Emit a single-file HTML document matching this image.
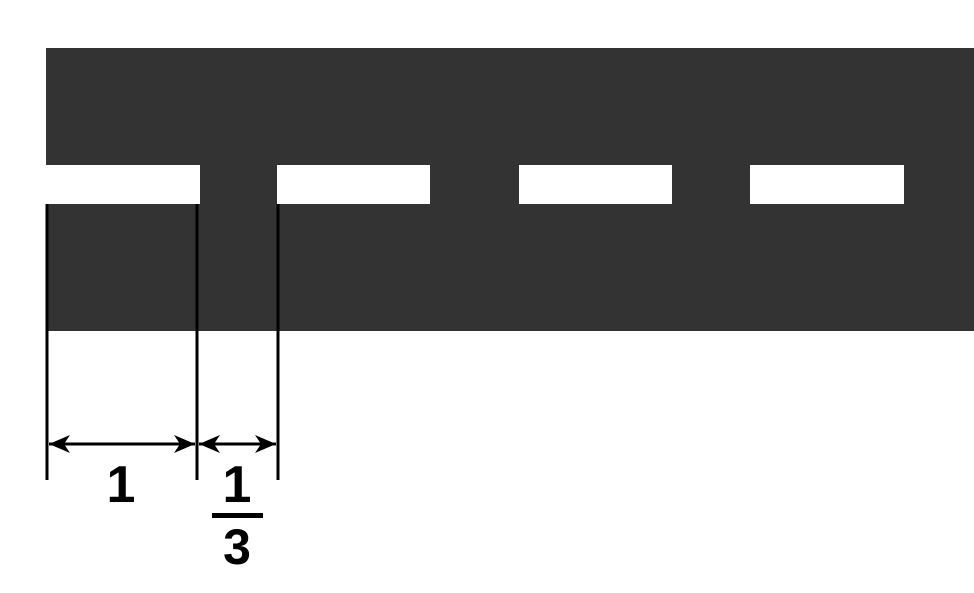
<!DOCTYPE html>
<html><head><meta charset="utf-8"><style>html,body{margin:0;padding:0;background:#fff}svg{display:block}</style></head>
<body>
<svg width="974" height="593" viewBox="0 0 974 593">
<script>
</script>
<rect x="46" y="48" width="928" height="283" fill="#333"/>
<g fill="#fff">
<rect x="46" y="165" width="154" height="39"/>
<rect x="277" y="165" width="153" height="39"/>
<rect x="519" y="165" width="153" height="39"/>
<rect x="750" y="165" width="154" height="39"/>
</g>
<g stroke="#000" stroke-width="3">
<line x1="47" y1="204" x2="47" y2="480"/>
<line x1="197" y1="204" x2="197" y2="480"/>
<line x1="278" y1="204" x2="278" y2="480"/>
<line x1="49" y1="444" x2="195" y2="444"/>
<line x1="199" y1="444" x2="276" y2="444"/>
</g>
<g fill="#000">
<path d="M49 444 L70 435 L64 444 L70 453 Z"/>
<path d="M195 444 L174 435 L180 444 L174 453 Z"/>
<path d="M199 444 L220 435 L214 444 L220 453 Z"/>
<path d="M276 444 L255 435 L261 444 L255 453 Z"/>
</g>
<g font-family="Liberation Sans, sans-serif" font-weight="bold" text-anchor="middle" fill="#000">
<text x="121" y="502" font-size="52">1</text>
<text x="237" y="502" font-size="52">1</text>
<rect x="212" y="513" width="51" height="5"/>
<text x="237" y="564" font-size="50">3</text>
</g>
</svg>
</body></html>
